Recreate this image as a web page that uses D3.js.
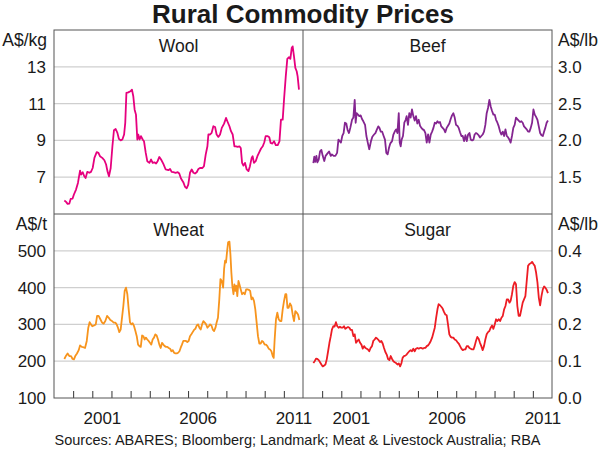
<!DOCTYPE html>
<html lang="en">
  <head>
    <meta charset="UTF-8" />
    <title>Rural Commodity Prices</title>
    <script src="https://d3js.org/d3.v7.min.js"></script>
    <style>
      body {
        margin: 0;
        background: white;
      }

      svg {
        display: block;
        font-family: 'Liberation Sans', Arial, sans-serif;
      }
    </style>
  </head>
  <body>
    <svg width="600" height="451"></svg>

    <script>
      // Values (decimal years, prices)
      const woolYears = [
        1999.54, 1999.63, 1999.71, 1999.8, 1999.87, 1999.97, 2000.04, 2000.15, 2000.25, 2000.36,
        2000.41, 2000.5, 2000.58, 2000.65, 2000.74, 2000.85, 2000.93, 2001.02, 2001.11, 2001.23,
        2001.32, 2001.4, 2001.52, 2001.63, 2001.72, 2001.79, 2001.87, 2001.96, 2002.05, 2002.13,
        2002.22, 2002.31, 2002.39, 2002.48, 2002.57, 2002.66, 2002.72, 2002.78, 2002.88, 2002.99,
        2003.07, 2003.14, 2003.21, 2003.28, 2003.35, 2003.4, 2003.47, 2003.54, 2003.63, 2003.7,
        2003.79, 2003.87, 2003.98, 2004.07, 2004.15, 2004.24, 2004.33, 2004.41, 2004.5, 2004.59,
        2004.71, 2004.83, 2004.97, 2005.06, 2005.14, 2005.23, 2005.35, 2005.46, 2005.54, 2005.63,
        2005.75, 2005.84, 2005.93, 2006.01, 2006.1, 2006.19, 2006.28, 2006.36, 2006.45, 2006.54,
        2006.62, 2006.75, 2006.83, 2006.92, 2007.01, 2007.06, 2007.15, 2007.23, 2007.32, 2007.41,
        2007.49, 2007.58, 2007.67, 2007.76, 2007.88, 2007.98, 2008.05, 2008.16, 2008.24, 2008.33,
        2008.42, 2008.5, 2008.59, 2008.68, 2008.75, 2008.82, 2008.89, 2008.97, 2009.06, 2009.15,
        2009.23, 2009.32, 2009.37, 2009.44, 2009.53, 2009.62, 2009.72, 2009.81, 2009.9, 2009.98,
        2010.05, 2010.16, 2010.24, 2010.31, 2010.4, 2010.49, 2010.58, 2010.68, 2010.77, 2010.85,
        2010.94, 2011.01, 2011.1, 2011.18, 2011.27, 2011.34, 2011.41, 2011.46, 2011.53, 2011.6,
        2011.67, 2011.72, 2011.79,
      ];
      const woolPrices = [
        5.73, 5.66, 5.55, 5.57, 5.82, 5.84, 6.06, 6.33, 6.69, 7.36,
        7.14, 7.27, 7.05, 6.96, 7.29, 7.24, 7.29, 7.5, 8.05, 8.36,
        8.32, 8.14, 8.05, 7.92, 7.69, 7.33, 7.05, 7.5, 8.68, 9.55,
        9.62, 9.41, 9.08, 9.0, 9.05, 9.32, 9.95, 11.58, 11.61, 11.67,
        11.76, 11.4, 10.67, 10.4, 9.05, 9.32, 9.05, 9.23, 9.05, 8.95,
        8.32, 7.87, 7.78, 7.96, 7.78, 7.81, 7.74, 7.87, 8.1, 7.96,
        7.72, 7.42, 7.38, 7.45, 7.29, 7.27, 7.24, 7.27, 7.2, 6.93,
        6.73, 6.48, 6.4, 6.6, 7.24, 7.42, 7.24, 7.2, 7.27, 7.45,
        7.5, 7.5, 7.6, 8.23, 8.68, 9.32, 9.32, 9.41, 9.77, 9.73,
        9.32, 9.19, 9.32, 9.68, 9.91, 10.22, 10.04, 9.77, 9.5, 9.32,
        8.68, 8.68, 8.65, 8.68, 8.59, 7.78, 7.63, 7.78, 7.42, 7.33,
        7.6, 8.05, 8.14, 7.78, 7.87, 8.14, 8.36, 8.56, 8.68, 8.9,
        9.23, 9.23, 9.17, 8.86, 8.83, 8.95, 8.74, 8.74, 8.95, 10.13,
        10.13, 11.22, 12.48, 13.43, 13.52, 13.43, 14.02, 14.11, 13.57, 12.94,
        12.76, 12.48, 11.76,
      ];

      const beefYears = [
        1999.54, 1999.59, 1999.64, 1999.7, 1999.75, 1999.82, 1999.89, 1999.96, 2000.03, 2000.11,
        2000.18, 2000.27, 2000.36, 2000.45, 2000.51, 2000.6, 2000.69, 2000.78, 2000.85, 2000.92,
        2000.98, 2001.05, 2001.12, 2001.19, 2001.26, 2001.33, 2001.4, 2001.47, 2001.56, 2001.63,
        2001.7, 2001.75, 2001.8, 2001.87, 2001.94, 2002.01, 2002.08, 2002.15, 2002.24, 2002.31,
        2002.39, 2002.46, 2002.55, 2002.62, 2002.71, 2002.78, 2002.86, 2002.93, 2002.99, 2003.06,
        2003.13, 2003.21, 2003.28, 2003.35, 2003.42, 2003.49, 2003.56, 2003.65, 2003.72, 2003.79,
        2003.86, 2003.93, 2004.0, 2004.05, 2004.1, 2004.15, 2004.22, 2004.29, 2004.36, 2004.41,
        2004.48, 2004.55, 2004.62, 2004.69, 2004.76, 2004.83, 2004.9, 2004.97, 2005.04, 2005.11,
        2005.18, 2005.25, 2005.32, 2005.39, 2005.46, 2005.53, 2005.6, 2005.67, 2005.74, 2005.81,
        2005.88, 2005.95, 2006.02, 2006.08, 2006.15, 2006.22, 2006.29, 2006.36, 2006.43, 2006.5,
        2006.57, 2006.64, 2006.71, 2006.78, 2006.85, 2006.92, 2006.99, 2007.06, 2007.13, 2007.2,
        2007.27, 2007.34, 2007.41, 2007.48, 2007.55, 2007.62, 2007.69, 2007.76, 2007.83, 2007.9,
        2007.96, 2008.03, 2008.1, 2008.17, 2008.24, 2008.31, 2008.38, 2008.45, 2008.52, 2008.59,
        2008.66, 2008.73, 2008.8, 2008.87, 2008.94, 2009.01, 2009.08, 2009.15, 2009.22, 2009.29,
        2009.36, 2009.43, 2009.5, 2009.57, 2009.64, 2009.71, 2009.78, 2009.84, 2009.91, 2009.98,
        2010.05, 2010.12, 2010.19, 2010.26, 2010.33, 2010.4, 2010.47, 2010.54, 2010.61, 2010.68,
        2010.75, 2010.82, 2010.89, 2010.96, 2011.03, 2011.1, 2011.17, 2011.24, 2011.31, 2011.38,
        2011.45, 2011.52, 2011.59, 2011.65, 2011.72, 2011.79,
      ];
      const beefPrices = [
        1.69, 1.78, 1.71, 1.79, 1.7, 1.74, 1.85, 1.87, 1.79, 1.72,
        1.79, 1.82, 1.85, 1.79, 1.81, 1.79, 1.79, 1.83, 2.01, 1.99,
        1.97, 2.06, 2.1, 2.24, 2.23, 2.14, 2.1, 2.17, 2.28, 2.31,
        2.55, 2.24, 2.37, 2.35, 2.33, 2.34, 2.29, 2.26, 2.21, 2.06,
        1.96, 1.88, 1.99, 2.05, 2.08, 2.1, 2.15, 2.19, 2.17, 2.12,
        2.12, 2.06, 2.01, 1.83, 1.81, 1.9, 1.96, 1.99, 2.08, 2.12,
        2.15, 2.1, 2.37, 1.97, 1.92, 2.01, 2.06, 2.24, 2.28, 2.33,
        2.21, 2.37, 2.31, 2.42, 2.33, 2.27, 2.33, 2.23, 2.28, 2.2,
        2.17, 2.15, 2.14, 2.1, 1.97, 2.08, 1.97, 2.08, 2.12, 2.17,
        2.24, 2.23, 2.26, 2.24, 2.25, 2.19, 2.17, 2.15, 2.11, 2.17,
        2.2, 2.23, 2.29, 2.34, 2.37, 2.31, 2.21, 2.2, 2.17, 2.11,
        2.06, 2.06, 1.99, 2.07, 1.99, 2.08, 2.1, 2.01, 2.0, 2.01,
        2.08, 2.1, 2.09, 2.07, 2.04, 2.06, 2.08, 2.12, 2.21, 2.37,
        2.44, 2.55, 2.46, 2.4, 2.35, 2.35, 2.28, 2.24, 2.19, 2.12,
        2.08, 2.12, 2.06, 2.15, 2.06, 2.04, 2.01, 1.97, 2.06, 2.17,
        2.21, 2.31, 2.29, 2.27, 2.25, 2.26, 2.24, 2.19, 2.17, 2.15,
        2.12, 2.12, 2.17, 2.24, 2.42, 2.35, 2.32, 2.28, 2.19, 2.1,
        2.07, 2.06, 2.12, 2.17, 2.24, 2.27,
      ];

      const wheatYears = [
        1999.54, 1999.63, 1999.71, 1999.8, 1999.89, 1999.97, 2000.04, 2000.11, 2000.2, 2000.29,
        2000.36, 2000.45, 2000.53, 2000.62, 2000.71, 2000.79, 2000.86, 2000.93, 2001.0, 2001.09,
        2001.18, 2001.25, 2001.33, 2001.42, 2001.51, 2001.59, 2001.68, 2001.77, 2001.86, 2001.94,
        2002.03, 2002.12, 2002.2,
        2002.27, 2002.34, 2002.41, 2002.48, 2002.55, 2002.62, 2002.69, 2002.76, 2002.83, 2002.9,
        2002.97, 2003.04, 2003.11, 2003.18, 2003.25, 2003.32, 2003.39, 2003.46, 2003.53, 2003.6,
        2003.67, 2003.73, 2003.8, 2003.87, 2003.94, 2004.01, 2004.08, 2004.15, 2004.22, 2004.29,
        2004.36, 2004.43, 2004.5, 2004.57, 2004.64, 2004.71, 2004.78, 2004.85, 2004.92, 2004.99,
        2005.06, 2005.13, 2005.2, 2005.27, 2005.34, 2005.41, 2005.48, 2005.55, 2005.61, 2005.68,
        2005.75, 2005.82, 2005.89, 2005.96, 2006.03, 2006.1, 2006.17, 2006.24, 2006.31, 2006.38,
        2006.45, 2006.52, 2006.59, 2006.66, 2006.73, 2006.8, 2006.87, 2006.94, 2007.01, 2007.08,
        2007.15, 2007.22, 2007.29, 2007.36, 2007.43, 2007.49, 2007.56,
        2007.63, 2007.69, 2007.76, 2007.83, 2007.88, 2007.93, 2007.98, 2008.03, 2008.09, 2008.16,
        2008.21, 2008.26, 2008.31, 2008.37, 2008.42, 2008.47, 2008.52, 2008.57, 2008.63, 2008.68,
        2008.75, 2008.82, 2008.89, 2008.96, 2009.03, 2009.1, 2009.17, 2009.24, 2009.31, 2009.37,
        2009.44, 2009.51, 2009.58, 2009.65, 2009.72, 2009.79, 2009.86, 2009.93, 2010.0, 2010.07,
        2010.14, 2010.21, 2010.28, 2010.35, 2010.42, 2010.47, 2010.52,
        2010.59, 2010.66, 2010.73, 2010.8, 2010.87, 2010.94, 2011.01, 2011.08, 2011.13,
        2011.19, 2011.25, 2011.32, 2011.39, 2011.46, 2011.53, 2011.6, 2011.67, 2011.74, 2011.81,
      ];
      const wheatPrices = [
        206, 215, 221, 214, 214, 206, 205, 214, 221, 230,
        243, 239, 238, 236, 255, 291, 306, 300, 295, 297,
        300, 323, 323, 314, 305, 302, 309, 323, 318, 312,
        309, 305, 305,
        300, 291, 279, 286, 318, 350, 391, 400, 382, 341,
        305, 300, 303, 295, 282, 268, 245, 241, 239, 270,
        268, 259, 264, 259, 255, 250, 245, 259, 264, 273,
        270, 259, 245, 236, 250, 245, 241, 239, 239, 236,
        234, 227, 230, 223, 221, 221, 223, 227, 236, 245,
        255, 255, 255, 252, 255, 268, 273, 279, 285, 288,
        297, 300, 291, 286, 300, 309, 305, 300, 291, 295,
        300, 297, 286, 282, 291, 305, 318,
        368, 423, 418, 400, 450, 473, 468, 495, 523, 525,
        491, 441, 405, 382, 409, 391, 405, 377, 418, 409,
        395, 382, 386, 382, 395, 395, 394, 391, 368, 373,
        364, 341, 305, 268, 248, 248, 255, 252, 245, 245,
        241, 234, 232, 227, 214, 209, 259,
        314, 332, 314, 309, 309, 341, 364, 382, 382,
        345, 345, 357, 350, 327, 309, 336, 332, 327, 312,
      ];

      const sugarYears = [
        1999.54, 1999.61, 1999.68, 1999.75, 1999.82, 1999.89, 1999.96, 2000.03, 2000.1, 2000.17,
        2000.24, 2000.31, 2000.38, 2000.45, 2000.51, 2000.58, 2000.65, 2000.72, 2000.79, 2000.86,
        2000.93, 2001.0, 2001.07, 2001.14, 2001.21, 2001.28, 2001.35, 2001.42, 2001.49, 2001.56,
        2001.63, 2001.7, 2001.77, 2001.84, 2001.91, 2001.98, 2002.05, 2002.12, 2002.19, 2002.26,
        2002.33, 2002.39, 2002.46, 2002.53, 2002.6, 2002.67, 2002.74, 2002.81, 2002.88, 2002.95,
        2003.02, 2003.09, 2003.16, 2003.23, 2003.3, 2003.37, 2003.44, 2003.51, 2003.58, 2003.65,
        2003.72, 2003.79, 2003.86, 2003.93, 2004.0, 2004.07, 2004.14, 2004.2, 2004.27, 2004.34,
        2004.41, 2004.48, 2004.55, 2004.62, 2004.69, 2004.76, 2004.83, 2004.9, 2004.97, 2005.04,
        2005.11, 2005.18, 2005.25, 2005.32, 2005.39, 2005.46, 2005.53, 2005.6, 2005.67, 2005.74,
        2005.81, 2005.88, 2005.95, 2006.02, 2006.08, 2006.15, 2006.22, 2006.29, 2006.36, 2006.43,
        2006.5, 2006.57, 2006.64, 2006.71, 2006.78, 2006.85, 2006.92, 2006.99, 2007.06, 2007.13,
        2007.2, 2007.27, 2007.34, 2007.41, 2007.48, 2007.55, 2007.62, 2007.69, 2007.76, 2007.83,
        2007.9, 2007.96, 2008.03, 2008.1, 2008.17, 2008.24, 2008.31, 2008.38, 2008.45, 2008.52,
        2008.59, 2008.66, 2008.73, 2008.8, 2008.87, 2008.94, 2009.01, 2009.08, 2009.15, 2009.22,
        2009.29, 2009.36, 2009.43, 2009.5, 2009.57, 2009.64, 2009.71, 2009.78, 2009.84, 2009.91,
        2009.98, 2010.05, 2010.12, 2010.19, 2010.26, 2010.33, 2010.4, 2010.47, 2010.54, 2010.61,
        2010.68, 2010.75, 2010.82, 2010.89, 2010.96, 2011.03, 2011.1, 2011.17, 2011.24, 2011.31,
        2011.38, 2011.45, 2011.52, 2011.59, 2011.65, 2011.72, 2011.79,
      ];
      const sugarPrices = [
        0.095, 0.1, 0.107, 0.106, 0.103, 0.097, 0.091, 0.086, 0.088, 0.091,
        0.105, 0.127, 0.15, 0.168, 0.186, 0.195, 0.194, 0.206, 0.195, 0.191,
        0.194, 0.191, 0.191, 0.195, 0.188, 0.191, 0.193, 0.191, 0.185, 0.185,
        0.168, 0.173, 0.15, 0.155, 0.159, 0.15, 0.145, 0.134, 0.141, 0.136,
        0.134, 0.132, 0.127, 0.136, 0.141, 0.155, 0.159, 0.164, 0.161, 0.157,
        0.152, 0.155, 0.148, 0.136, 0.125, 0.118, 0.106, 0.103, 0.114, 0.106,
        0.1, 0.097, 0.095, 0.091, 0.094, 0.086, 0.095, 0.109, 0.114, 0.115,
        0.118, 0.123, 0.127, 0.13, 0.127, 0.134, 0.127, 0.134, 0.136, 0.134,
        0.136, 0.136, 0.134, 0.136, 0.136, 0.141, 0.143, 0.148, 0.155, 0.164,
        0.177, 0.191, 0.218, 0.241, 0.255, 0.252, 0.248, 0.243, 0.234, 0.227,
        0.225, 0.2, 0.173, 0.166, 0.164, 0.164, 0.159, 0.157, 0.152, 0.148,
        0.141, 0.134, 0.13, 0.132, 0.132, 0.141, 0.141, 0.136, 0.134, 0.132,
        0.132, 0.141, 0.155, 0.166, 0.161, 0.15, 0.141, 0.13, 0.141, 0.159,
        0.173, 0.179, 0.182, 0.191, 0.197, 0.188, 0.2, 0.214, 0.209, 0.214,
        0.209, 0.218, 0.223, 0.241, 0.25, 0.268, 0.268, 0.259, 0.264, 0.282,
        0.305, 0.315, 0.309, 0.25, 0.223, 0.223, 0.241, 0.259, 0.268, 0.277,
        0.318, 0.359, 0.364, 0.366, 0.37, 0.364, 0.359, 0.341, 0.314, 0.273,
        0.252, 0.277, 0.295, 0.303, 0.3, 0.294, 0.285,
      ];

      const woolTicks = [7, 9, 11, 13];
      const beefTicks = [1.5, 2.0, 2.5, 3.0];
      const wheatTicks = [100, 200, 300, 400, 500];
      const sugarTicks = [0.0, 0.1, 0.2, 0.3, 0.4];
      const yearTicks = d3.range(2000, 2012);
      const yearLabels = [2001, 2006, 2011];

      // plot frame
      const plotLeft = 54,
        plotMid = 303,
        plotRight = 552,
        plotTop = 30,
        plotMiddle = 214,
        plotBottom = 398;

      const svg = d3.select('svg');

      const xLeft = d3.scaleLinear().domain([1999, 2012]).range([plotLeft, plotMid]);
      const xRight = d3.scaleLinear().domain([1999, 2012]).range([plotMid, plotRight]);

      const panels = [
        {
          title: 'Wool', years: woolYears, values: woolPrices, color: '#e6007e',
          x: xLeft, y: d3.scaleLinear().domain([5, 15]).range([plotMiddle, plotTop]),
          ticks: woolTicks, fmt: d3.format('d'), side: 'left', unit: 'A$/kg',
        },
        {
          title: 'Beef', years: beefYears, values: beefPrices, color: '#842590',
          x: xRight, y: d3.scaleLinear().domain([1.0, 3.5]).range([plotMiddle, plotTop]),
          ticks: beefTicks, fmt: d3.format('.1f'), side: 'right', unit: 'A$/lb',
        },
        {
          title: 'Wheat', years: wheatYears, values: wheatPrices, color: '#f7941d',
          x: xLeft, y: d3.scaleLinear().domain([100, 600]).range([plotBottom, plotMiddle]),
          ticks: wheatTicks, fmt: d3.format('d'), side: 'left', unit: 'A$/t',
        },
        {
          title: 'Sugar', years: sugarYears, values: sugarPrices, color: '#ed1c24',
          x: xRight, y: d3.scaleLinear().domain([0, 0.5]).range([plotBottom, plotMiddle]),
          ticks: sugarTicks, fmt: d3.format('.1f'), side: 'right', unit: 'A$/lb',
        },
      ];

      panels.forEach((p) => {
        const [x0, x1] = p.x.range();
        const [yb, yt] = p.y.range();

        // gridlines
        svg
          .append('g')
          .selectAll('line')
          .data(p.ticks.filter((t) => p.y(t) < yb - 1))
          .join('line')
          .attr('x1', x0)
          .attr('x2', x1)
          .attr('y1', (d) => p.y(d))
          .attr('y2', (d) => p.y(d))
          .attr('stroke', '#cfcfcf')
          .attr('stroke-width', 1.2);

        // tick labels
        const axis = (p.side === 'left' ? d3.axisLeft(p.y) : d3.axisRight(p.y))
          .tickValues(p.ticks)
          .tickFormat(p.fmt)
          .tickSize(0)
          .tickPadding(p.side === 'left' ? 8 : 6);
        const g = svg
          .append('g')
          .attr('transform', `translate(${p.side === 'left' ? x0 : x1},0)`)
          .call(axis);
        g.select('.domain').remove();
        g.selectAll('text')
          .attr('font-size', 17)
          .attr('font-family', 'Liberation Sans, Arial, sans-serif')
          .attr('fill', '#1a1a1a');

        // unit label
        svg
          .append('text')
          .attr('x', p.side === 'left' ? x0 - 7 : x1 + 6)
          .attr('y', yt + 16)
          .attr('text-anchor', p.side === 'left' ? 'end' : 'start')
          .attr('font-size', 17.5)
          .attr('fill', '#1a1a1a')
          .text(p.unit);

        // panel title
        svg
          .append('text')
          .attr('x', (x0 + x1) / 2)
          .attr('y', yt + 22)
          .attr('text-anchor', 'middle')
          .attr('font-size', 17.5)
          .attr('fill', '#1a1a1a')
          .text(p.title);

        // series line
        const pts = d3.zip(p.years, p.values);
        svg
          .append('path')
          .datum(pts)
          .attr('fill', 'none')
          .attr('stroke', p.color)
          .attr('stroke-width', 1.8)
          .attr('stroke-linejoin', 'round')
          .attr(
            'd',
            d3
              .line()
              .x((d) => p.x(d[0]))
              .y((d) => p.y(d[1])),
          );
      });

      // x axes along the bottom
      [xLeft, xRight].forEach((x) => {
        const ticks = svg
          .append('g')
          .attr('transform', `translate(0,${plotBottom})`)
          .call(d3.axisBottom(x).tickValues(yearTicks).tickSize(-7).tickFormat(''));
        ticks.select('.domain').remove();
        ticks.selectAll('line').attr('stroke', '#333');

        const labels = svg
          .append('g')
          .attr('transform', `translate(0,${plotBottom})`)
          .call(
            d3
              .axisBottom(x)
              .tickValues(yearLabels.map((d) => d + 0.5))
              .tickFormat((d) => Math.floor(d))
              .tickSize(0)
              .tickPadding(14),
          );
        labels.select('.domain').remove();
        labels
          .selectAll('text')
          .attr('font-size', 17)
          .attr('font-family', 'Liberation Sans, Arial, sans-serif')
          .attr('fill', '#1a1a1a');
      });

      // frame and dividers
      svg
        .append('rect')
        .attr('x', plotLeft)
        .attr('y', plotTop)
        .attr('width', plotRight - plotLeft)
        .attr('height', plotBottom - plotTop)
        .attr('fill', 'none')
        .attr('stroke', '#555');
      svg
        .append('line')
        .attr('x1', plotMid)
        .attr('x2', plotMid)
        .attr('y1', plotTop)
        .attr('y2', plotBottom)
        .attr('stroke', '#555');
      svg
        .append('line')
        .attr('x1', plotLeft)
        .attr('x2', plotRight)
        .attr('y1', plotMiddle)
        .attr('y2', plotMiddle)
        .attr('stroke', '#555');

      svg
        .append('text')
        .attr('x', 303)
        .attr('y', 23)
        .attr('text-anchor', 'middle')
        .attr('font-size', 26)
        .attr('font-weight', 'bold')
        .attr('fill', '#1a1a1a')
        .text('Rural Commodity Prices');

      svg
        .append('text')
        .attr('x', 297.5)
        .attr('y', 445)
        .attr('text-anchor', 'middle')
        .attr('font-size', 14.5)
        .attr('fill', '#1a1a1a')
        .text('Sources: ABARES; Bloomberg; Landmark; Meat & Livestock Australia; RBA');
    </script>
  </body>
</html>
